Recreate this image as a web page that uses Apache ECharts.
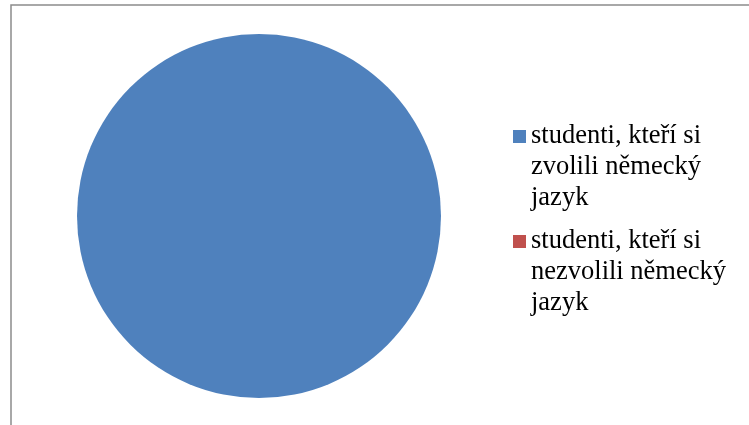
<!DOCTYPE html>
<html>
<head>
<meta charset="utf-8">
<script src="https://cdn.jsdelivr.net/npm/echarts@6/dist/echarts.min.js"></script>
<style>
html,body{margin:0;padding:0;background:#fff;}
#c{width:749px;height:425px;}
</style>
</head>
<body>
<div id="c"></div>
<script>
var categories = ['studenti, kteří si\nzvolili německý\njazyk', 'studenti, kteří si\nnezvolili německý\njazyk'];
var values = [100, 0];
var colors = ['#4F81BD', '#C0504D'];

var chart = echarts.init(document.getElementById('c'), null, {renderer: 'canvas'});
chart.setOption({
  animation: false,
  color: colors,
  graphic: [{
    type: 'rect',
    shape: {x: 11, y: 5, width: 800, height: 500},
    style: {fill: 'none', stroke: '#8c8c8c', lineWidth: 1.5},
    silent: true
  }],
  legend: {
    orient: 'vertical',
    left: 513,
    top: 59,
    padding: 0,
    itemWidth: 13,
    itemHeight: 13,
    itemGap: -50,
    icon: 'rect',
    selectedMode: false,
    data: categories,
    formatter: function (name) { return ' \n \n' + name; },
    textStyle: {
      fontFamily: 'Liberation Serif',
      fontSize: 26.5,
      lineHeight: 31,
      color: '#000'
    }
  },
  series: [{
    type: 'pie',
    center: [259, 216],
    radius: 182,
    label: {show: false},
    labelLine: {show: false},
    emphasis: {disabled: true},
    data: categories.map(function (n, i) { return {name: n, value: values[i]}; })
  }]
});
</script>
</body>
</html>
